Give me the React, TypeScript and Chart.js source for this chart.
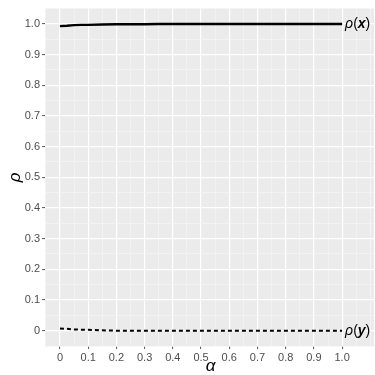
import React, { useEffect, useRef } from "react";
import { Chart, registerables } from "chart.js";

Chart.register(...registerables);

const alpha = [0, 0.025, 0.05, 0.075, 0.1, 0.15, 0.2, 0.25, 0.3, 0.35, 0.4, 0.45, 0.5, 0.55, 0.6, 0.65, 0.7, 0.75, 0.8, 0.85, 0.9, 0.95, 1.0];
const rhoX = [0.993, 0.994, 0.996, 0.997, 0.997, 0.998, 0.999, 0.999, 0.999, 1.0, 1.0, 1.0, 1.0, 1.0, 1.0, 1.0, 1.0, 1.0, 1.0, 1.0, 1.0, 1.0, 1.0];
const rhoY = [0.007, 0.006, 0.004, 0.003, 0.003, 0.001, 0.0, 0.0, 0.0, 0.0, 0.0, 0.0, 0.0, 0.0, 0.0, 0.0, 0.0, 0.0, 0.0, 0.0, 0.0, 0.0, 0.0];
const xTicks = [0, 0.1, 0.2, 0.3, 0.4, 0.5, 0.6, 0.7, 0.8, 0.9, 1.0];
const yTicks = [0, 0.1, 0.2, 0.3, 0.4, 0.5, 0.6, 0.7, 0.8, 0.9, 1.0];
const xGrid = [-0.05, 0, 0.05, 0.1, 0.15, 0.2, 0.25, 0.3, 0.35, 0.4, 0.45, 0.5, 0.55, 0.6, 0.65, 0.7, 0.75, 0.8, 0.85, 0.9, 0.95, 1.0, 1.05, 1.1];
const yGrid = [-0.05, 0, 0.05, 0.1, 0.15, 0.2, 0.25, 0.3, 0.35, 0.4, 0.45, 0.5, 0.55, 0.6, 0.65, 0.7, 0.75, 0.8, 0.85, 0.9, 0.95, 1.0, 1.05];
const seriesLabels = [{ pre: "ρ(", v: "x", post: ")" }, { pre: "ρ(", v: "y", post: ")" }];

const FONT = "'Liberation Sans', Arial, sans-serif";

const isMajor = (v: number, majors: number[]) => majors.some((m) => Math.abs(m - v) < 1e-6);

const fmt = (v: number) => (Math.abs(v) < 1e-9 ? "0" : v.toFixed(1));

const labelPlugin = {
  id: "annot",
  afterDatasetsDraw(chart: any) {
    const ctx = chart.ctx;
    const xs = chart.scales.x;
    const ys = chart.scales.y;
    const ca = chart.chartArea;
    ctx.save();
    ctx.fillStyle = "#000";
    ctx.textBaseline = "middle";
    const ends = [rhoX[rhoX.length - 1], rhoY[rhoY.length - 1]];
    seriesLabels.forEach((lab, i) => {
      let px = xs.getPixelForValue(alpha[alpha.length - 1]) + 3;
      const py = ys.getPixelForValue(ends[i]);
      ctx.font = `italic 14px ${FONT}`;
      ctx.textAlign = "left";
      ctx.fillText("ρ", px, py);
      px += ctx.measureText("ρ").width;
      ctx.font = `14px ${FONT}`;
      ctx.fillText("(", px, py);
      px += ctx.measureText("(").width;
      ctx.font = `italic bold 14px ${FONT}`;
      ctx.fillText(lab.v, px, py);
      px += ctx.measureText(lab.v).width;
      ctx.font = `14px ${FONT}`;
      ctx.fillText(")", px, py);
    });
    // axis titles
    ctx.font = `italic 17px ${FONT}`;
    ctx.textAlign = "center";
    ctx.fillText("α", (ca.left + ca.right) / 2 + 1, 366);
    ctx.save();
    ctx.translate(15, (ca.top + ca.bottom) / 2);
    ctx.rotate(-Math.PI / 2);
    ctx.fillText("ρ", 0, 0);
    ctx.restore();
    ctx.restore();
  },
};

const bgPlugin = {
  id: "panelbg",
  beforeDraw(chart: any) {
    const ca = chart.chartArea;
    const ctx = chart.ctx;
    ctx.save();
    ctx.fillStyle = "#EBEBEB";
    ctx.fillRect(ca.left, ca.top, ca.right - ca.left, ca.bottom - ca.top);
    ctx.restore();
  },
};

export default function App() {
  const ref = useRef<HTMLCanvasElement | null>(null);
  useEffect(() => {
    if (!ref.current) return;
    const chart = new Chart(ref.current, {
      type: "scatter",
      data: {
        datasets: [
          {
            label: "rho(x)",
            data: alpha.map((a, i) => ({ x: a, y: rhoX[i] })),
            showLine: true,
            borderColor: "#000",
            borderWidth: 2.4,
            pointRadius: 0,
            tension: 0,
          },
          {
            label: "rho(y)",
            data: alpha.map((a, i) => ({ x: a, y: rhoY[i] })),
            showLine: true,
            borderColor: "#000",
            borderWidth: 2,
            borderDash: [4, 3],
            pointRadius: 0,
            tension: 0,
          },
        ],
      },
      options: {
        animation: false,
        responsive: false,
        maintainAspectRatio: false,
        layout: { padding: { top: 5, right: 1, left: 0, bottom: 0 } },
        plugins: { legend: { display: false }, tooltip: { enabled: false } },
        scales: {
          x: {
            type: "linear",
            min: -0.053,
            max: 1.113,
            afterBuildTicks: (s: any) => {
              s.ticks = xGrid.map((v) => ({ value: v }));
            },
            afterFit: (s: any) => {
              s.height = 29;
            },
            border: { display: false },
            grid: {
              color: (c: any) => (c.tick && isMajor(c.tick.value, xTicks) ? "#FFFFFF" : "#F5F5F5"),
              lineWidth: (c: any) => (c.tick && isMajor(c.tick.value, xTicks) ? 1.2 : 0.7),
              tickColor: (c: any) => (c.tick && isMajor(c.tick.value, xTicks) ? "#555" : "rgba(0,0,0,0)"),
              tickLength: 3,
              tickWidth: 1,
            },
            ticks: {
              autoSkip: false,
              maxRotation: 0,
              padding: 2,
              color: "#4D4D4D",
              font: { family: FONT, size: 11 },
              callback: (v: any) => (isMajor(Number(v), xTicks) ? fmt(Number(v)) : ""),
            },
          },
          y: {
            type: "linear",
            min: -0.05,
            max: 1.05,
            afterBuildTicks: (s: any) => {
              s.ticks = yGrid.map((v) => ({ value: v }));
            },
            afterFit: (s: any) => {
              s.width = 45;
            },
            border: { display: false },
            grid: {
              color: (c: any) => (c.tick && isMajor(c.tick.value, yTicks) ? "#FFFFFF" : "#F5F5F5"),
              lineWidth: (c: any) => (c.tick && isMajor(c.tick.value, yTicks) ? 1.2 : 0.7),
              tickColor: (c: any) => (c.tick && isMajor(c.tick.value, yTicks) ? "#555" : "rgba(0,0,0,0)"),
              tickLength: 3,
              tickWidth: 1,
            },
            ticks: {
              autoSkip: false,
              padding: 2,
              color: "#4D4D4D",
              font: { family: FONT, size: 11 },
              callback: (v: any) => (isMajor(Number(v), yTicks) ? fmt(Number(v)) : ""),
            },
          },
        },
      },
      plugins: [bgPlugin, labelPlugin],
    });
    return () => chart.destroy();
  }, []);
  return (
    <div style={{ position: "absolute", left: 0, top: 0, width: 375, height: 375, background: "#fff" }}>
      <canvas ref={ref} width={375} height={375} style={{ width: 375, height: 375, display: "block" }} />
    </div>
  );
}
